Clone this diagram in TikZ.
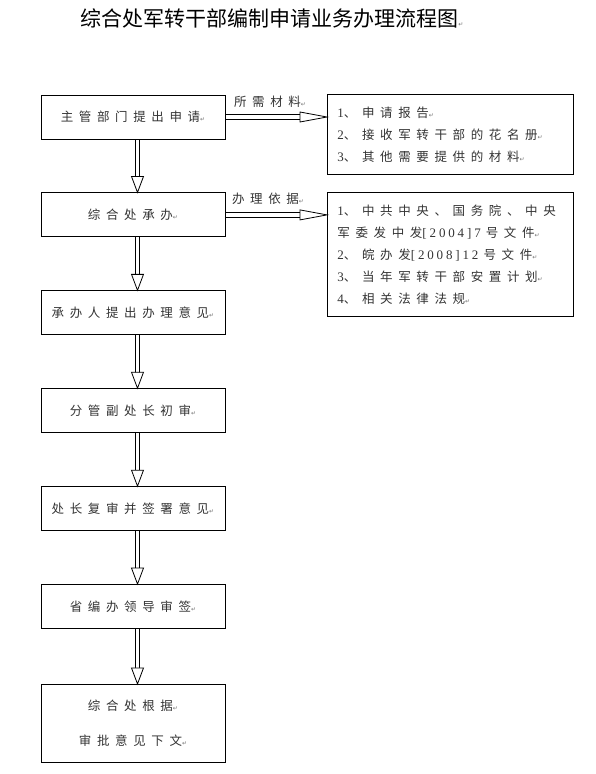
\documentclass[tikz,border=0pt]{standalone}
\usepackage{fontspec}
\setmainfont{Noto Sans CJK SC}
\newfontfamily\markfont{DejaVu Sans}
\newfontfamily\latinfont[LetterSpace=22]{Liberation Serif}
\usetikzlibrary{positioning}

\newcommand{\pmark}{{\markfont\fontsize{6}{6}\selectfont\color{black!55}↵}}
\newcommand{\spaced}{\addfontfeature{LetterSpace=45}}
\newcommand{\asc}[1]{{\latinfont\fontsize{13}{22}\selectfont #1}}
% hollow double arrows: two parallel lines and an open head
\newcommand{\vlink}[2]{%
  \draw[shaft] ([xshift=2.2pt]#1.south) -- ([xshift=2.2pt,yshift=15pt]#2.north);
  \draw[shaft] ([xshift=6.8pt]#1.south) -- ([xshift=6.8pt,yshift=15pt]#2.north);
  \draw[head] ([xshift=-1.5pt,yshift=16pt]#2.north) -- ([xshift=4.5pt]#2.north) -- ([xshift=10.5pt,yshift=16pt]#2.north) -- cycle;}
\newcommand{\hlink}[2]{%
  \draw[shaft] ([yshift=2.2pt]#1.east) -- ([xshift=-26pt,yshift=2.2pt]#2);
  \draw[shaft] ([yshift=-2.2pt]#1.east) -- ([xshift=-26pt,yshift=-2.2pt]#2);
  \draw[head] ([xshift=-27pt,yshift=5pt]#2) -- (#2) -- ([xshift=-27pt,yshift=-5pt]#2) -- cycle;}

\begin{document}
\begin{tikzpicture}[x=1pt, y=-1pt, node distance=53pt, every node/.style={font=\fontsize{12.5}{22}\selectfont\spaced, text=black!80}]

% Define styles
\tikzstyle{process} = [rectangle, draw=black, line width=0.9pt, minimum width=184pt, minimum height=44pt, text centered]
\tikzstyle{listbox} = [rectangle, draw=black, line width=0.9pt, anchor=north west, text width=226pt, inner xsep=10pt, align=left]
\tikzstyle{shaft} = [line width=0.8pt]
\tikzstyle{head} = [line width=0.8pt, draw=black, fill=white, line join=miter]
\tikzstyle{note} = [inner sep=1pt]

\useasboundingbox (0,0) rectangle (595,774);

% Title
\node[font=\fontsize{21}{21}\selectfont, text=black] (title) at (272,18) {综合处军转干部编制申请业务办理流程图\pmark};

% Nodes
\node[process] (apply) at (133,117) {主管部门提出申请\pmark};

\node[process, below=of apply] (office) {综合处承办\pmark};
\vlink{apply}{office}

\node[process, below=of office] (opinion) {承办人提出办理意见\pmark};
\vlink{office}{opinion}

\node[process, below=of opinion] (first) {分管副处长初审\pmark};
\vlink{opinion}{first}

\node[process, below=of first] (second) {处长复审并签署意见\pmark};
\vlink{first}{second}

\node[process, below=of second] (leader) {省编办领导审签\pmark};
\vlink{second}{leader}

\node[process, below=55pt of leader, minimum height=78pt, align=center] (issue) {综合处根据\pmark\\[13pt]审批意见下文\pmark};
\vlink{leader}{issue}

% Side lists
\node[listbox, minimum height=80pt] (material) at (327,94) {\asc{1}、申请报告\pmark\\\asc{2}、接收军转干部的花名册\pmark\\\asc{3}、其他需要提供的材料\pmark};
\coordinate (needtip) at (apply.east -| material.west);
\hlink{apply}{needtip}
\node[note] (needlabel) at (270,102) {所需材料\pmark};

\node[listbox, minimum height=124pt] (basis) at (327,192) {\asc{1}、中共中央、国务院、中央\\军委发中发\asc{[2004]7}\hspace{5pt}号文件\pmark\\\asc{2}、皖办发\asc{[2008]12}\hspace{5pt}号文件\pmark\\\asc{3}、当年军转干部安置计划\pmark\\\asc{4}、相关法律法规\pmark};
\coordinate (basistip) at (office.east -| basis.west);
\hlink{office}{basistip}
\node[note] (basislabel) at (268,199) {办理依据\pmark};

\end{tikzpicture}
\end{document}
